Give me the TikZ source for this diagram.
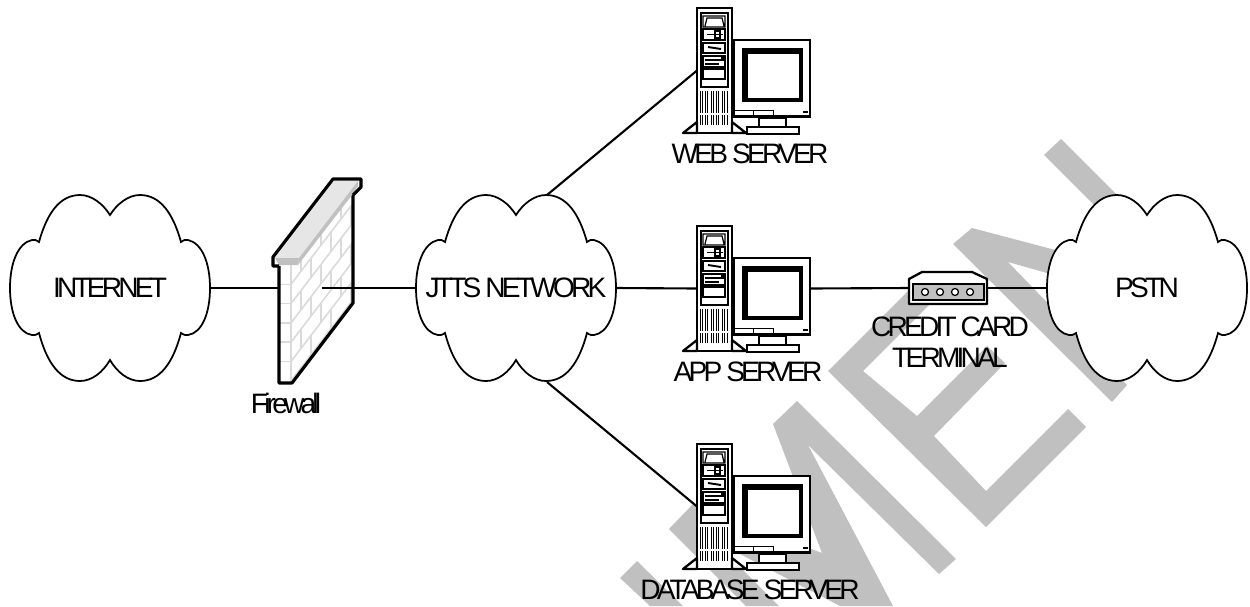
\documentclass[tikz,border=0pt]{standalone}
\usepackage{fontspec}
\setmainfont{Liberation Sans}[LetterSpace=-13.5]
\definecolor{stampgray}{RGB}{192,192,192}
\definecolor{brickgray}{RGB}{218,218,218}
\definecolor{capgray}{RGB}{230,230,230}
\tikzset{
  lbl/.style={font=\fontsize{16}{17.6}\selectfont, inner sep=0pt, outer sep=0pt, align=center},
  cloudbox/.style={lbl, rectangle, minimum width=4cm, minimum height=3.74cm},
  cloudline/.style={draw=black, fill=white, line width=1pt},
  conn/.style={line width=1.2pt},
  stamp/.style={fill=stampgray, draw=none},
  brick/.style={draw=brickgray, line width=0.9pt},
  wallline/.style={line width=1.8pt, line join=round},
  towerbox/.style={rectangle, draw, fill=white, line width=1.4pt, minimum width=0.7cm, minimum height=2.5cm, inner sep=0pt, outer sep=0pt},
  server/.pic={
    % tower
    \node[towerbox] (-tower) at (17.5,62.5) {};
    \draw[line width=1.3pt, fill=white, line join=round] (0,114) -- (-14,125) -- (0,125) -- cycle;
    \draw[line width=1.3pt, fill=white, line join=round] (35,114) -- (49,125) -- (35,125) -- cycle;
    \draw[line width=1.6pt] (4,5) rectangle (31,79);
    \draw[line width=0.7pt] (6,8) rectangle (28,19) (8,18) -- (10,10) -- (25,10) -- (27,18);
    \draw[line width=0.7pt] (6,21) rectangle (28,32) (18,23) rectangle (23,30);
    \draw[line width=1.1pt] (10,26.5) -- (26,26.5);
    \draw[line width=0.7pt] (6,35) rectangle (28,45);
    \draw[line width=1.1pt] (11,39) -- (24,41);
    \draw[line width=0.7pt] (6,48) rectangle (28,59);
    \draw[line width=0.8pt] (8,52) -- (24,52) (8,56) -- (22,56);
    \fill (24,49) rectangle (27,53);
    \draw[line width=0.7pt] (6,61) rectangle (28,71);
    \foreach \vx in {3,5.5,8,10.5,14,16.5,19,21.5,25,27.5,30}
      \draw[line width=0.55pt] (\vx,83) -- (\vx,105) (\vx,107) -- (\vx,117);
    % monitor
    \draw[line width=1.4pt, fill=white] (37,32) rectangle (113,109);
    \fill (45,40) rectangle (106,94);
    \fill[white] (51,46) rectangle (102,90);
    \draw[line width=0.5pt] (37,102) -- (76,102) -- (76,107) (56,102) -- (56,107) (37,107) -- (113,107);
    \fill (106,103) rectangle (111,105);
    \draw[line width=1.1pt, fill=white] (62,110) rectangle (89,119);
    \draw[line width=1.1pt, fill=white] (50,119) rectangle (102,126);
    \coordinate (-out) at (113,62.5);
  }
}
\newcommand{\netcloud}[3]{
  \node[cloudbox] (#1) at (#2,288) {};
  \draw[cloudline, shift={(#1.center)}] (0,-73) .. controls (7,-84) and (18,-93) .. (30,-93)
    .. controls (50,-93) and (63,-75) .. (71,-46) .. controls (74,-48) and (76,-49) .. (78,-48)
    .. controls (92,-45) and (100,-25) .. (100,0) .. controls (100,25) and (92,45) .. (78,47)
    .. controls (76,47.5) and (74,47) .. (71,45) .. controls (63,75) and (50,93) .. (30,93)
    .. controls (18,93) and (7,84) .. (0,72) .. controls (-7,84) and (-18,93) .. (-30,93)
    .. controls (-50,93) and (-63,75) .. (-71,45) .. controls (-74,47) and (-76,47.5) .. (-78,47)
    .. controls (-92,45) and (-100,25) .. (-100,0) .. controls (-100,-25) and (-92,-45) .. (-78,-48)
    .. controls (-76,-49) and (-74,-48) .. (-71,-46) .. controls (-63,-75) and (-50,-93) .. (-30,-93)
    .. controls (-18,-93) and (-7,-84) .. (0,-73) -- cycle;
  \node[lbl] (#1text) at (#1.center) {#3};
}
\begin{document}
\begin{tikzpicture}[x=0.02cm, y=-0.02cm]
\useasboundingbox (0,0) rectangle (1250,606);

% Gray stamp behind everything
\fill[stamp] (637,561) -- (620,578) -- (650,606) -- (683,606) -- cycle;
\fill[stamp] (669,529) -- (693,504) -- (822,553) -- (773,424) -- (797,401) -- (956,559) -- (939,574)
  -- (808,445) -- (893,606) -- (840,606) -- (713,540) -- (779,606) -- (746,606) -- cycle;
\fill[stamp] (828,371) -- (925,274) -- (942,292) -- (863,371) -- (917,416) -- (987,346) -- (1005,363)
  -- (934,436) -- (986,491) -- (1068,409) -- (1086,427) -- (986,527) -- cycle;
\fill[stamp] (1061,139) -- (1200,278) -- (1185,312) -- (1008,262) -- (1127,385) -- (1112,402)
  -- (953,244) -- (972,228) -- (1169,280) -- (1044,155) -- cycle;

% Clouds
\netcloud{internet}{110}{INTERNET}
\netcloud{jtts}{516}{JTTS NETWORK}
\netcloud{pstn}{1147}{PSTN}
\coordinate (jttsup) at (547,195);
\coordinate (jttsdown) at (547,382);

% Firewall
\fill[white] (279,266) -- (279,383) -- (292,383) -- (353,303) -- (353,195) -- cycle;
\begin{scope}
  \clip (279,258) -- (353,190) -- (353,303) -- (292,383) -- (279,383) -- cycle;
  \draw[brick] (291,265) -- (291,383);
  \foreach \i in {1,...,5} \draw[brick] (279,265+19.3*\i) -- (291,265+19.3*\i);
  \foreach \i in {0,...,6} \draw[brick] (291,265+19.3*\i) -- ++(62,-81);
  \foreach \i in {0,...,6} \foreach \j in {0,1,2} {
    \pgfmathsetmacro{\bx}{301+20*\j+10*mod(\i,2)}
    \pgfmathsetmacro{\by}{265+19.3*\i-1.31*(\bx-291)}
    \draw[brick] (\bx,\by) -- ++(0,19.3);
  }
\end{scope}
\draw[wallline] (279,266) -- (279,383) -- (292,383) -- (353,303) -- (353,195);
\fill[capgray] (275,258) -- (334,181) -- (358,181) -- (299,258) -- cycle;
\fill[stampgray] (275,258) -- (299,258) -- (298,265) -- (279,265) -- cycle;
\fill[stampgray] (299,258) -- (358,181) -- (358,186) -- (352,195) -- (298,265) -- cycle;
\draw[wallline] (279,266) -- (273,266) -- (273,257) -- (333,179) -- (361,179) -- (361,187) -- (353,195);
\coordinate (fwin) at (279,288);
\coordinate (fwout) at (322,288);
\node[lbl] (fwlabel) at (286,403) {Firewall};

% Servers
\pic (web) at (697,8) {server};
\pic (app) at (697,226) {server};
\pic (db) at (697,444) {server};
\node[lbl] (weblabel) at (750,154) {WEB SERVER};
\node[lbl] (applabel) at (748,372) {APP SERVER};
\node[lbl] (dblabel) at (750,590) {DATABASE SERVER};

% Card terminal
\node[rectangle, minimum width=1.56cm, minimum height=0.64cm, inner sep=0pt, outer sep=0pt] (modem) at (948,288) {};
\draw[line width=1.3pt, fill=white, line join=round] (909,279) -- (922,272) -- (972,272) -- (987,279) -- (987,304) -- (909,304) -- cycle;
\draw[line width=0.7pt, fill=stampgray] (913,284) rectangle (984,300);
\foreach \cx in {925,940,955,970}
  \draw[line width=0.7pt, fill=white] (\cx,292) circle (0.07cm);
\node[lbl] (modemlabel) at (950,342) {CREDIT CARD\\TERMINAL};

% Links
\draw[conn] (internet.east) -- (fwin);
\draw[conn] (fwout) -- (jtts.west);
\draw[conn] (jttsup) -- (web-tower.west);
\draw[conn] (jtts.east) -- (app-tower.west);
\draw[conn] (jttsdown) -- (db-tower.west);
\draw[conn] (app-out) -- (modem.west);
\draw[conn] (modem.east) -- (pstn.west);

\end{tikzpicture}
\end{document}
